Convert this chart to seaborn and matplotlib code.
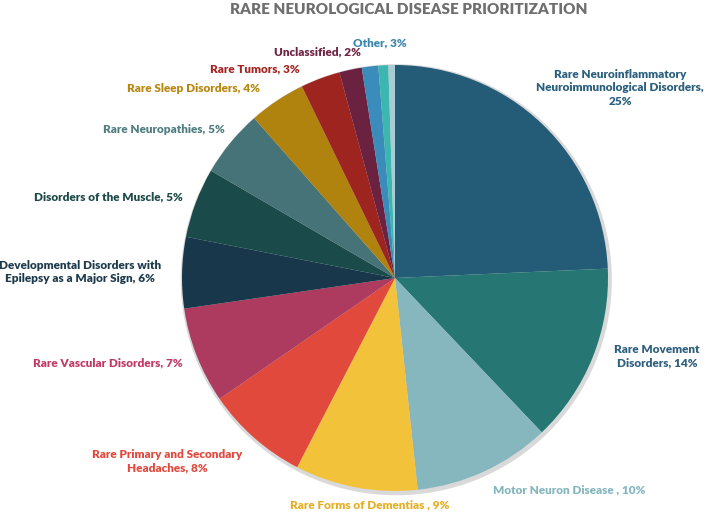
import matplotlib
matplotlib.use("Agg")
import matplotlib.pyplot as plt
import seaborn as sns

sns.set_theme(style="white")
plt.rcParams['font.family'] = ['Lato', 'DejaVu Sans']

# slice values (percent)
categories = [
    "Rare Neuroinflammatory Neuroimmunological Disorders",
    "Rare Movement Disorders",
    "Motor Neuron Disease",
    "Rare Forms of Dementias",
    "Rare Primary and Secondary Headaches",
    "Rare Vascular Disorders",
    "Developmental Disorders with Epilepsy as a Major Sign",
    "Disorders of the Muscle",
    "Rare Neuropathies",
    "Rare Sleep Disorders",
    "Rare Tumors",
    "Unclassified",
    "Other (a)",
    "Other (b)",
    "Other (c)",
]
values = [24.3, 13.6, 10.4, 9.3, 7.8, 7.3, 5.4, 5.3, 5.1, 4.3, 3.0, 1.7, 1.25, 0.75, 0.5]

slice_colors = ["#245C78", "#267774", "#86B6BE", "#F2C23A", "#E0493C", "#AD3B5F",
                "#18374A", "#1B4A4A", "#467377", "#B0820E", "#9E2420", "#6B2140",
                "#3A8DBA", "#3BB7B0", "#A8CCD4"]

# label texts as shown on the chart
label_texts = [
    "Rare Neuroinflammatory\nNeuroimmunological Disorders,\n25%",
    "Rare Movement\nDisorders, 14%",
    "Motor Neuron Disease , 10%",
    "Rare Forms of Dementias , 9%",
    "Rare Primary and Secondary\nHeadaches, 8%",
    "Rare Vascular Disorders, 7%",
    "Developmental Disorders with\nEpilepsy as a Major Sign, 6%",
    "Disorders of the Muscle, 5%",
    "Rare Neuropathies, 5%",
    "Rare Sleep Disorders, 4%",
    "Rare Tumors, 3%",
    "Unclassified, 2%",
    "Other, 3%",
]
label_colors = ["#2A5F7E", "#2F607E", "#86B6C0", "#E6AE24", "#E04A3E", "#C03A64",
                "#1D3B4D", "#1C4A48", "#4F7D80", "#B8870F", "#A32622", "#6E2343",
                "#3A86AE"]
# label centres in pixels (layout)
label_pos = [(620, 88), (657, 356), (569, 490), (370, 505), (167, 461), (108, 363),
             (80, 272), (108, 197), (164, 130), (193, 89), (255, 69), (317, 52),
             (380, 43)]

W, H = 709, 513
CX, CY, R = 395, 278, 213


def px2data(px, py):
    return (px - CX) / R, (CY - py) / R


fig = plt.figure(figsize=(W / 100, H / 100), dpi=100)
ax = fig.add_axes([0, 0, 1, 1])

# faint shadow under the pie
ax.pie([1], colors=["#D9D9D9"], radius=1.012, center=(0.006, -0.008),
       wedgeprops=dict(linewidth=0))
ax.pie(values, colors=slice_colors, startangle=90, counterclock=False,
       radius=1, center=(0, 0), wedgeprops=dict(linewidth=0))

ax.set_xlim(-CX / R, (W - CX) / R)
ax.set_ylim((CY - H) / R, CY / R)
ax.axis('off')

for txt, col, (px, py) in zip(label_texts, label_colors, label_pos):
    x, y = px2data(px, py)
    ax.text(x, y, txt, color=col, fontsize=8.5, fontweight='heavy',
            ha='center', va='center', linespacing=1.25)

tx, ty = px2data(409, 10)
ax.text(tx, ty, "RARE NEUROLOGICAL DISEASE PRIORITIZATION", color="#6F6F6F",
        fontsize=11, fontweight='heavy', ha='center', va='center')

fig.savefig("out.png", dpi=100)
